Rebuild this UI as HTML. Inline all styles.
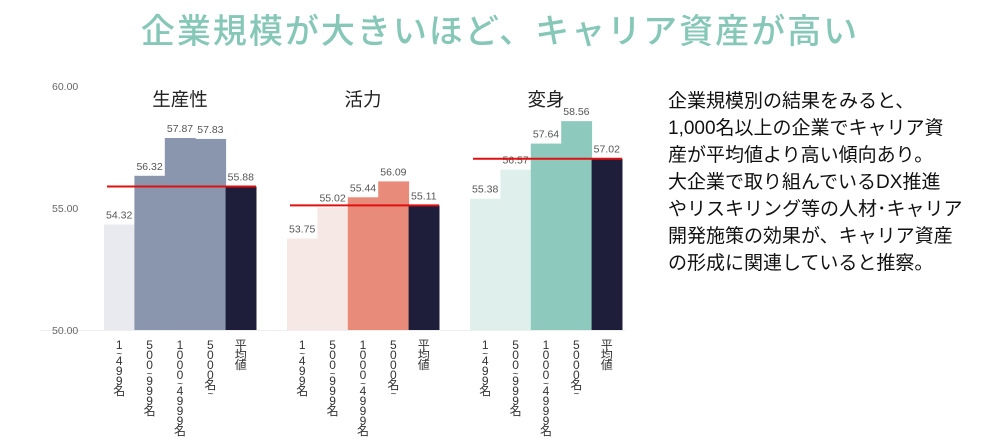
<!DOCTYPE html>
<html><head><meta charset="utf-8">
<style>
body{margin:0;background:#fff;width:1000px;height:447px;overflow:hidden;position:relative;font-family:"Liberation Sans","Noto Sans CJK JP",sans-serif}
#title{position:absolute;left:0;width:1000px;top:4px;text-align:center;font-size:34px;color:#86c7b8;letter-spacing:2px;font-weight:500}
#desc{position:absolute;left:668px;top:88px;font-size:19px;line-height:27px;color:#111;white-space:nowrap}
svg{position:absolute;left:0;top:0}
</style></head><body>
<div id="title">企業規模が大きいほど、キャリア資産が高い</div>
<div id="desc">企業規模別の結果をみると、<br>1,000名以上の企業でキャリア資<br>産が平均値より高い傾向あり。<br>大企業で取り組んでいるDX推進<br>やリスキリング等の人材･キャリア<br>開発施策の効果が、キャリア資産<br>の形成に関連していると推察。</div>
<svg id="chart" width="1000" height="447"></svg>
<script>
const panels=["生産性","活力","変身"];
const categories=["1~499名","500~999名","1000~4999名","5000名~","平均値"];
const prodValues=[54.32,56.32,57.87,57.83,55.88];
const vitalValues=[53.75,55.02,55.44,56.09,55.11];
const transValues=[55.38,56.57,57.64,58.56,57.02];
const yTicks=[50,55,60];
const series=[prodValues,vitalValues,transValues];
const colorSets=[
 ["#e8eaef","#8a95ae","#8a95ae","#8a95ae","#1e1d3a"],
 ["#f6e8e5","#f6e8e5","#e88b7a","#e88b7a","#1e1d3a"],
 ["#dff0ec","#dff0ec","#8dcabd","#8dcabd","#1e1d3a"]];
const NS="http://www.w3.org/2000/svg";
const svg=document.getElementById('chart');
const y=v=>330-(v-50)*24.4;
const panelX=[104,287,470],bw=30.4;
function mk(t,a,txt){const e=document.createElementNS(NS,t);for(const k in a)e.setAttribute(k,a[k]);if(txt!==undefined)e.textContent=txt;svg.appendChild(e);return e;}
let ax=mk('line',{x1:40,x2:625,y1:330.5,y2:330.5,stroke:'#eee'});


yTicks.forEach(t=>{
 const e=mk('text',{x:52,y:y(t)+4,'font-size':10.5,fill:'#666'},t.toFixed(2));
 
 
});
series.forEach((vals,p)=>{
 const x0=panelX[p];
 const tt=mk('text',{x:x0+76,y:106,'font-size':18.5,'text-anchor':'middle',fill:'#222'},panels[p]);
 
 
 vals.forEach((v,i)=>{
  const bx=x0+i*bw;
  const r=mk('rect',{x:bx,y:y(v),width:bw+0.5,height:330-y(v),fill:colorSets[p][i]});
  
  
  const l=mk('text',{x:bx+bw/2,y:y(v)-6,'font-size':10.5,'text-anchor':'middle',fill:'#555'},v.toFixed(2));
  
  
  const c=mk('text',{x:bx+bw/2,y:349,'font-size':12,fill:'#333','text-anchor':'middle'});
  
  
  [...categories[i]].forEach((ch,k)=>{
   const ts=document.createElementNS(NS,'tspan');
   ts.setAttribute('x',bx+bw/2);
   ts.setAttribute('dy',k===0?0:(ch==='~'||categories[i][k-1]==='~'?8:10));
   if(ch==='~'){ts.setAttribute('font-size',10);}
   ts.textContent=ch;
   c.appendChild(ts);
  });
 });
 const avg=vals[4];
 const rl=mk('line',{x1:x0+3,x2:x0+5*bw,y1:y(avg),y2:y(avg),stroke:'#e01010','stroke-width':2});
 
 
});
</script>
</body></html>
